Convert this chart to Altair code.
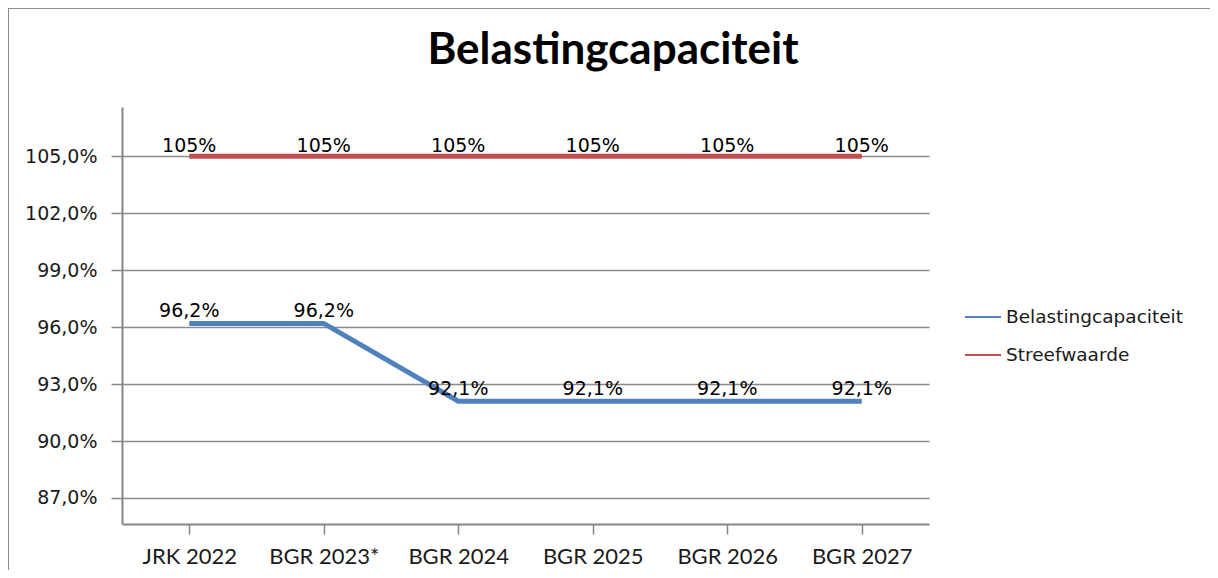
import altair as alt
import pandas as pd

categories = ["JRK 2022", "BGR 2023*", "BGR 2024", "BGR 2025", "BGR 2026", "BGR 2027"]
belasting = [96.2, 96.2, 92.1, 92.1, 92.1, 92.1]
streef = [105, 105, 105, 105, 105, 105]
series_names = ["Belastingcapaciteit", "Streefwaarde"]
series_colors = ["#4F81BD", "#C0504D"]
y_ticks = [87, 90, 93, 96, 99, 102, 105]
title_text = "Belastingcapaciteit"

rows = []
for i, c in enumerate(categories):
    rows.append({"cat": c, "serie": series_names[0], "v": belasting[i],
                 "lab": f"{belasting[i]:.1f}".replace(".", ",") + "%"})
for i, c in enumerate(categories):
    rows.append({"cat": c, "serie": series_names[1], "v": streef[i],
                 "lab": f"{streef[i]:.0f}%"})
df = pd.DataFrame(rows)

W, H = 807, 417
PL, PT = 114, 99
TOTW, TOTH = 1202, 562

x_enc = alt.X("cat:N", sort=categories,
              scale=alt.Scale(type="point", padding=0.5),
              axis=alt.Axis(title=None, labelAngle=0, labelFont="Lato", labelFontSize=22,
                            labelColor="#1a1a1a", labelPadding=12, tickSize=10,
                            tickColor="#868686", tickWidth=1.5, domainColor="#868686",
                            domainWidth=2, grid=False))
y_enc = alt.Y("v:Q", scale=alt.Scale(domain=[85.63, 107.6], nice=False, zero=False),
              axis=alt.Axis(title=None, values=y_ticks,
                            labelExpr="replace(format(datum.value, '.1f'), '.', ',') + '%'",
                            labelFont="DejaVu Sans", labelFontSize=19, labelColor="#1a1a1a",
                            labelPadding=14, tickSize=11, tickColor="#868686", tickWidth=1.5,
                            domainColor="#868686", domainWidth=2,
                            grid=True, gridColor="#8a8a8a", gridWidth=1.5))

base = alt.Chart(df)

lines = base.mark_line(strokeWidth=5, clip=False).encode(
    x=x_enc, y=y_enc,
    color=alt.Color("serie:N", scale=alt.Scale(domain=series_names, range=series_colors),
                    legend=alt.Legend(title=None, orient="none", legendX=842, legendY=191,
                                      symbolType="stroke", symbolSize=1296,
                                      symbolStrokeWidth=2, labelFont="DejaVu Sans",
                                      labelFontSize=18.5, labelColor="#1a1a1a",
                                      rowPadding=9, labelOffset=4, labelLimit=0)),
    detail="serie:N",
)

lab_blue = base.transform_filter(alt.datum.serie == series_names[0]).mark_text(
    font="DejaVu Sans", fontSize=19, color="#000000", baseline="alphabetic", dy=-6
).encode(x=alt.X("cat:N", sort=categories), y="v:Q", text="lab:N")

lab_red = base.transform_filter(alt.datum.serie == series_names[1]).mark_text(
    font="DejaVu Sans", fontSize=19, color="#000000", baseline="alphabetic", dy=-4
).encode(x=alt.X("cat:N", sort=categories), y="v:Q", text="lab:N")

title = alt.Chart(pd.DataFrame({"t": [title_text]})).mark_text(
    font="Lato", fontSize=44, fontWeight="bold", color="#000000",
    baseline="alphabetic", align="center"
).encode(x=alt.value(613 - 122), y=alt.value(64 - 107), text="t:N")

border_top = alt.Chart(pd.DataFrame({"a": [0]})).mark_rule(
    color="#8c8c8c", strokeWidth=2, clip=False
).encode(x=alt.value(-PL), x2=alt.value(TOTW - PL + 8), y=alt.value(-PT))

border_left = alt.Chart(pd.DataFrame({"a": [0]})).mark_rule(
    color="#8c8c8c", strokeWidth=2, clip=False
).encode(x=alt.value(-PL), y=alt.value(-PT), y2=alt.value(TOTH - PT + 8))

chart = alt.layer(lines, lab_blue, lab_red, title, border_top, border_left).properties(
    width=W, height=H,
    autosize=alt.AutoSizeParams(type="none"),
    padding={"left": PL, "top": PT, "right": TOTW - PL - W, "bottom": TOTH - PT - H},
).configure(background="white", view=alt.ViewConfig(stroke=None))

chart.save("out.html", embed_options={"renderer": "svg", "actions": False})
